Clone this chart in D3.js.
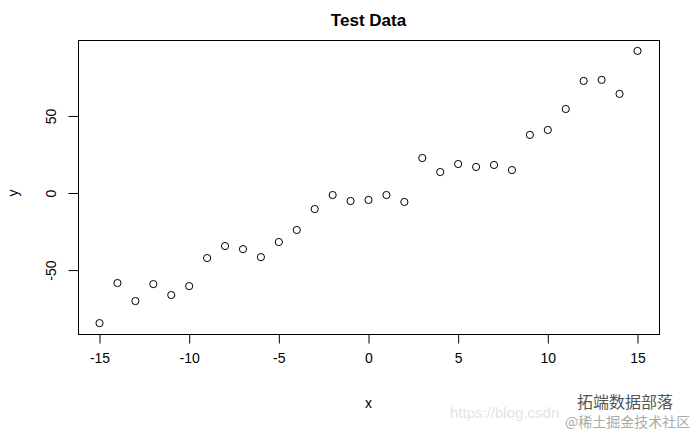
<!DOCTYPE html>
<html>
<head>
<meta charset="utf-8">
<script src="https://cdn.jsdelivr.net/npm/d3@7"></script>
<style>
  body { margin: 0; background: #fff; }
  text { font-family: Arial, "Liberation Sans", sans-serif; }
</style>
</head>
<body>
<svg class="scatter-svg"></svg>
<script>
// data
const xValues = [-15, -14, -13, -12, -11, -10, -9, -8, -7, -6, -5, -4, -3, -2, -1, 0,
  1, 2, 3, 4, 5, 6, 7, 8, 9, 10, 11, 12, 13, 14, 15]
const yValues = [-84.4, -58.4, -70.1, -59.1, -66.2, -60.4, -42.2, -34.4, -36.4, -41.6,
  -31.8, -24.0, -10.4, -1.3, -5.2, -4.5, -1.3, -5.8, 22.7, 13.6, 18.8, 16.9, 18.2,
  14.9, 37.7, 40.9, 54.5, 72.7, 73.4, 64.3, 92.2]
const xTicks = [-15, -10, -5, 0, 5, 10, 15]
const yTicks = [-50, 0, 50]

const width = 700
const height = 432
const margin = { left: 78, right: 41, top: 40, bottom: 98 }

const svg = d3.select('.scatter-svg')
  .attr('width', width)
  .attr('height', height)

// R style 4% padding on both axes
function padded(values) {
  const [lo, hi] = d3.extent(values)
  const pad = (hi - lo) * 0.04
  return [lo - pad, hi + pad]
}

const x = d3.scaleLinear()
  .domain(padded(xValues))
  .range([margin.left, width - margin.right])
const y = d3.scaleLinear()
  .domain(padded(yValues))
  .range([height - margin.bottom, margin.top])

// plain hyphen minus, as R prints it
const fmt = d => String(d)

// plot box
svg.append('rect')
  .attr('x', margin.left + 0.5)
  .attr('y', margin.top + 0.5)
  .attr('width', width - margin.left - margin.right)
  .attr('height', height - margin.top - margin.bottom)
  .attr('fill', 'none')
  .attr('stroke', '#000')

// x axis
const xAxis = svg.append('g')
  .attr('transform', 'translate(0,' + (height - margin.bottom + 0.5) + ')')
  .call(d3.axisBottom(x).tickValues(xTicks).tickSize(9).tickPadding(10).tickFormat(fmt))
xAxis.select('.domain').remove()
xAxis.selectAll('text').attr('font-size', 14).attr('fill', '#000').style('font-family', 'Arial, "Liberation Sans", sans-serif')

// y axis, labels rotated like R's default
const yAxis = svg.append('g')
  .attr('transform', 'translate(' + (margin.left + 0.5) + ',0)')
  .call(d3.axisLeft(y).tickValues(yTicks).tickSize(10).tickFormat(fmt))
yAxis.select('.domain').remove()
yAxis.selectAll('text')
  .attr('font-size', 14)
  .attr('fill', '#000')
  .style('font-family', 'Arial, "Liberation Sans", sans-serif')
  .attr('x', null)
  .attr('dy', null)
  .attr('text-anchor', 'middle')
  .attr('dominant-baseline', 'central')
  .attr('transform', 'translate(-28,0) rotate(-90)')

// points
svg.append('g')
  .selectAll('circle')
  .data(xValues.map((d, i) => ({ x: d, y: yValues[i] })))
  .join('circle')
  .attr('cx', d => x(d.x))
  .attr('cy', d => y(d.y))
  .attr('r', 3.6)
  .attr('fill', 'none')
  .attr('stroke', '#000')
  .attr('stroke-width', 1)

// title and axis labels
svg.append('text')
  .attr('x', (margin.left + width - margin.right) / 2)
  .attr('y', 26)
  .attr('text-anchor', 'middle')
  .attr('font-size', 17)
  .attr('font-weight', 'bold')
  .text('Test Data')

svg.append('text')
  .attr('x', (margin.left + width - margin.right) / 2)
  .attr('y', 408)
  .attr('text-anchor', 'middle')
  .attr('font-size', 14)
  .text('x')

svg.append('text')
  .attr('transform', 'translate(18,' + y(0) + ') rotate(-90)')
  .attr('text-anchor', 'middle')
  .attr('font-size', 14)
  .text('y')

// watermark
svg.append('text')
  .attr('x', 450)
  .attr('y', 418)
  .attr('font-size', 15)
  .attr('fill', '#e4e4e4')
  .text('https://blog.csdn')

svg.append('text')
  .attr('x', 577)
  .attr('y', 408)
  .attr('font-size', 16)
  .attr('fill', '#555')
  .style('font-family', '"Noto Sans CJK SC", sans-serif')
  .text('拓端数据部落')

svg.append('text')
  .attr('x', 565)
  .attr('y', 427)
  .attr('font-size', 14)
  .attr('fill', '#aaa')
  .style('font-family', '"Noto Sans CJK SC", sans-serif')
  .text('@稀土掘金技术社区')
</script>
</body>
</html>
